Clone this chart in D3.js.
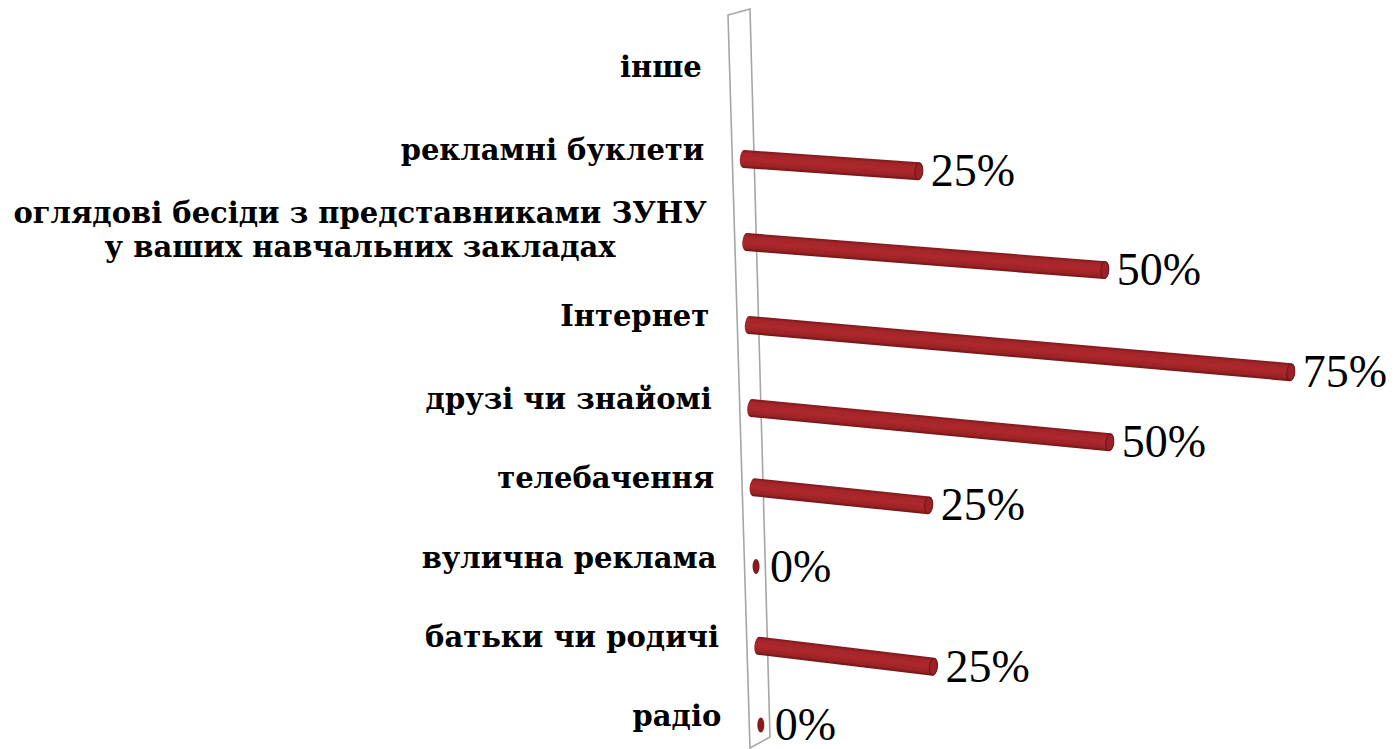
<!DOCTYPE html>
<html>
<head>
<meta charset="utf-8">
<script src="https://cdn.jsdelivr.net/npm/d3@7"></script>
<style>
  body { margin: 0; background: #fff; }
  .cat { font-family: "DejaVu Serif", serif; font-weight: bold; font-size: 29px; fill: #000; }
  .pct { font-family: "Liberation Serif", serif; font-size: 46px; fill: #000; }
</style>
</head>
<body>
<svg id="chart" width="1400" height="749"></svg>
<script>
// categories top to bottom, as in the picture
var categories = [
  "інше",
  "рекламні буклети",
  "оглядові бесіди з представниками ЗУНУ\nу ваших навчальних закладах",
  "Інтернет",
  "друзі чи знайомі",
  "телебачення",
  "вулична реклама",
  "батьки чи родичі",
  "радіо"
];
var values = [null, 25, 50, 75, 50, 25, 0, 25, 0];
var valueLabels = ["", "25%", "50%", "75%", "50%", "25%", "0%", "25%", "0%"];

var svg = d3.select("#chart");

// category position (slightly compressed towards the bottom, perspective)
var y = d3.scaleLinear().domain([0, 4, 8]).range([76, 408, 725]);
// front edge of the wall leans to the right going down
var wallX = d3.scaleLinear().domain([15, 748]).range([728, 750]);
// value -> bar length (a bit longer per % further out)
var len = d3.scaleLinear().domain([0, 25, 75]).range([0, 175, 542]);
// bars tilt more the lower they are
var tilt = d3.scaleLinear().domain([160, 645]).range([0.07, 0.12]);

var r = 9, capRx = 4;

// gradient across the cylinder
var defs = svg.append("defs");
var g1 = defs.append("linearGradient").attr("id", "body")
  .attr("x1", 0).attr("y1", 0).attr("x2", 0).attr("y2", 1);
[[0, "#7e181b"], [0.18, "#a3252a"], [0.5, "#ad282c"], [0.82, "#9c2226"], [1, "#701416"]]
  .forEach(function(s) { g1.append("stop").attr("offset", s[0]).attr("stop-color", s[1]); });

// the thin wall
var wt = 15, wb = 748;
var wall = [
  [wallX(wt), wt], [wallX(wt) + 22, wt - 6],
  [wallX(wb) + 20, wb - 11], [wallX(wb), wb]
];
svg.append("path")
  .attr("d", d3.line()(wall) + "Z")
  .attr("fill", "#fff")
  .attr("stroke", "#a6a6a6")
  .attr("stroke-width", 1.6);

// bars
categories.forEach(function(c, i) {
  var yc = y(i);
  var xs = wallX(yc) + 11.5;
  var v = values[i];
  if (v == null) return;
  var L = len(v);
  var xe = xs + L, ye = yc + L * tilt(yc);
  var ang = Math.atan2(ye - yc, xe - xs) * 180 / Math.PI;
  var g = svg.append("g").attr("transform", "translate(" + xs + "," + yc + ") rotate(" + ang + ")");
  var Lr = Math.sqrt((xe - xs) * (xe - xs) + (ye - yc) * (ye - yc));
  if (Lr > 0) {
    g.append("path")
      .attr("d", "M0," + (-r) + "L" + Lr + "," + (-r) +
        "A" + capRx + "," + r + " 0 0 1 " + Lr + "," + r +
        "L0," + r + "A" + capRx + "," + r + " 0 0 1 0," + (-r) + "Z")
      .attr("fill", "url(#body)");
    g.append("ellipse")
      .attr("cx", Lr).attr("cy", 0).attr("rx", capRx).attr("ry", r - 0.7)
      .attr("fill", "#9a2226").attr("stroke", "#6e1416").attr("stroke-width", 1);
  } else {
    g.append("ellipse")
      .attr("cx", 0).attr("cy", 0).attr("rx", 3.5).attr("ry", 7.5)
      .attr("fill", "#8a1a1c");
  }
  svg.append("text").attr("class", "pct")
    .attr("x", xe + (v === 0 ? 14 : 12))
    .attr("y", ye + 15)
    .text(valueLabels[i]);
});

// category labels, right aligned next to the wall
categories.forEach(function(c, i) {
  var yc = y(i);
  var right = wallX(yc) - 28;
  var lines = c.split("\n");
  if (lines.length == 1) {
    svg.append("text").attr("class", "cat")
      .attr("x", right).attr("y", yc + 1)
      .attr("text-anchor", "end")
      .text(c);
  } else {
    var t = svg.append("text").attr("class", "cat").attr("text-anchor", "middle");
    var spans = lines.map(function(l, k) {
      return t.append("tspan").attr("y", yc - 19 + k * 34).text(l);
    });
    var w = d3.max(spans, function(s) { return s.node().getComputedTextLength(); });
    spans.forEach(function(s) { s.attr("x", right - w / 2); });
  }
});
</script>
</body>
</html>
